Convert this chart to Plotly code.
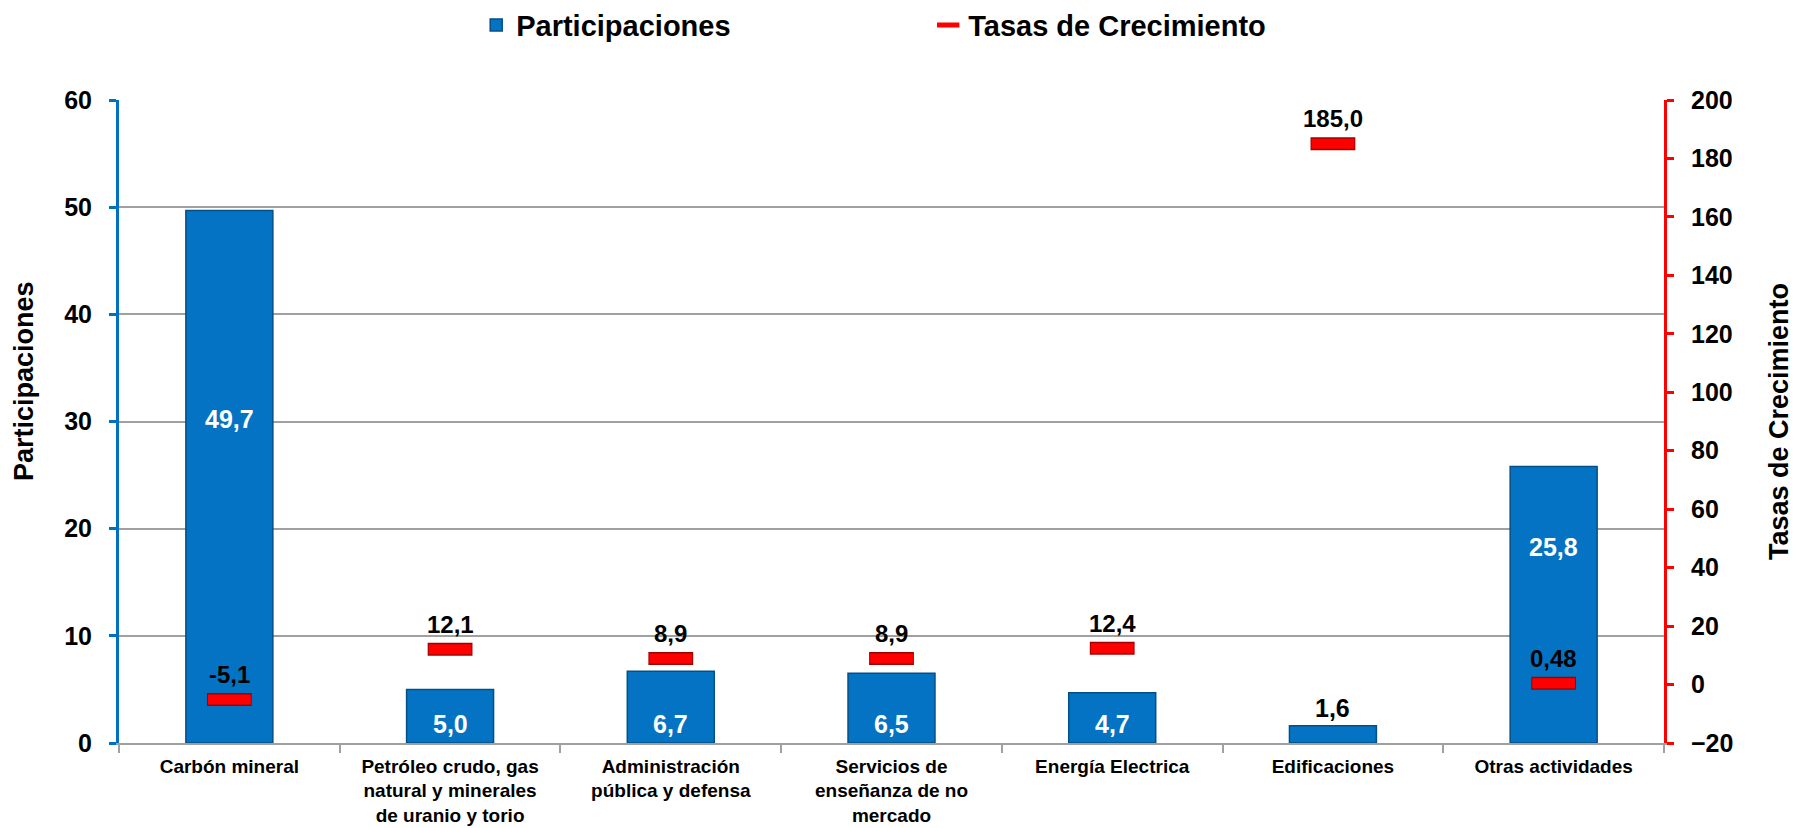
import plotly.graph_objects as go

categories = [
    "Carbón mineral",
    "Petróleo crudo, gas<br>natural y minerales<br>de uranio y torio",
    "Administración<br>pública y defensa",
    "Servicios de<br>enseñanza de no<br>mercado",
    "Energía Electrica",
    "Edificaciones",
    "Otras actividades",
]
participaciones = [49.7, 5.0, 6.7, 6.5, 4.7, 1.6, 25.8]
tasas = [-5.1, 12.1, 8.9, 8.9, 12.4, 185.0, 0.48]
left_ticks = list(range(0, 61, 10))
right_ticks = list(range(-20, 201, 20))

# label placement for bar values (style, not data)
bar_label_mode = ["mid", "base", "base", "base", "base", "above", "mid"]


def fmt(v):
    s = f"{v:.1f}" if round(v, 1) == v else f"{v:.2f}"
    return s.replace(".", ",")


ARIAL = "Liberation Sans, Arial, sans-serif"
BLUE = "#0473C3"
RED = "#FF0000"

fig = go.Figure()
fig.add_trace(go.Bar(
    x=categories, y=participaciones, name="Participaciones",
    marker=dict(color=BLUE, line=dict(color="#034F87", width=1.5)),
    yaxis="y",
))
# darker outline under the red dashes
fig.add_trace(go.Scatter(
    x=categories, y=tasas, mode="markers", yaxis="y2", showlegend=False,
    hoverinfo="skip",
    marker=dict(symbol="line-ew", size=32, line=dict(color="#A00000", width=13)),
))
fig.add_trace(go.Scatter(
    x=categories, y=tasas, mode="markers", yaxis="y2", name="Tasas de Crecimiento",
    marker=dict(symbol="line-ew", size=30.5, color=RED, line=dict(color=RED, width=10)),
))

annotations = []
for c, v, m in zip(categories, participaciones, bar_label_mode):
    if m == "mid":
        annotations.append(dict(x=c, y=v / 2, xref="x", yref="y", text=fmt(v),
                                showarrow=False, yanchor="middle", yshift=58,
                                font=dict(family=ARIAL, size=25, color="white", weight="bold")))
    elif m == "base":
        annotations.append(dict(x=c, y=0, xref="x", yref="y", text=fmt(v),
                                showarrow=False, yanchor="bottom", yshift=3,
                                font=dict(family=ARIAL, size=25, color="white", weight="bold")))
    else:
        annotations.append(dict(x=c, y=v, xref="x", yref="y", text=fmt(v),
                                showarrow=False, yanchor="bottom", yshift=2,
                                font=dict(family=ARIAL, size=25, color="black", weight="bold")))
for c, v in zip(categories, tasas):
    annotations.append(dict(x=c, y=v, xref="x", yref="y2", text=fmt(v),
                            showarrow=False, yanchor="middle", yshift=25,
                            font=dict(family=ARIAL, size=24, color="black", weight="bold")))

# left axis title (placed slightly above centre, as in the original)
annotations.append(dict(x=0, y=0.563, xref="paper", yref="paper", text="Participaciones",
                        textangle=-90, showarrow=False, xanchor="center", yanchor="middle",
                        xshift=-95,
                        font=dict(family=ARIAL, size=27, color="black", weight="bold")))

fig.update_layout(
    template="none",
    width=1794, height=828,
    margin=dict(l=119, r=130, t=100, b=85, autoexpand=False),
    paper_bgcolor="white", plot_bgcolor="white",
    bargap=0.606,
    showlegend=True,
    legend=dict(orientation="h", x=0.2312, xanchor="left", y=1.1166, yanchor="middle",
                entrywidth=407, font=dict(family=ARIAL, size=29, color="black", weight="bold"),
                bgcolor="rgba(0,0,0,0)"),
    xaxis=dict(
        showline=True, linecolor="#A0A0A0", linewidth=1.5,
        ticks="outside", tickson="boundaries", ticklen=8, tickwidth=1.5, tickcolor="#A0A0A0",
        ticklabelstandoff=5,
        tickfont=dict(family=ARIAL, size=19, color="black", weight="bold"),
        showgrid=False, automargin=False,
    ),
    yaxis=dict(
        range=[0, 60], tickvals=left_ticks, showline=True, linecolor="#0070C0", linewidth=3,
        ticks="outside", ticklen=7, tickwidth=3, tickcolor="#0070C0", ticklabelstandoff=12,
        showgrid=True, gridcolor="#A0A0A0", gridwidth=1.5, zeroline=False,
        tickfont=dict(family=ARIAL, size=25, color="black", weight="bold"),
        automargin=False,
    ),
    yaxis2=dict(
        range=[-20, 200], tickvals=right_ticks, overlaying="y", side="right",
        showline=True, linecolor=RED, linewidth=3,
        ticks="outside", ticklen=7, tickwidth=3, tickcolor=RED, ticklabelstandoff=12,
        showgrid=False, zeroline=False,
        tickfont=dict(family=ARIAL, size=25, color="black", weight="bold"),
        title=dict(text="Tasas de Crecimiento", standoff=40,
                   font=dict(family=ARIAL, size=27, color="black", weight="bold")),
        automargin=False,
    ),
    annotations=annotations,
)

fig.write_html("out.html", config={"displayModeBar": False},
               post_script="document.body.style.margin='0';document.body.style.overflow='hidden';")
